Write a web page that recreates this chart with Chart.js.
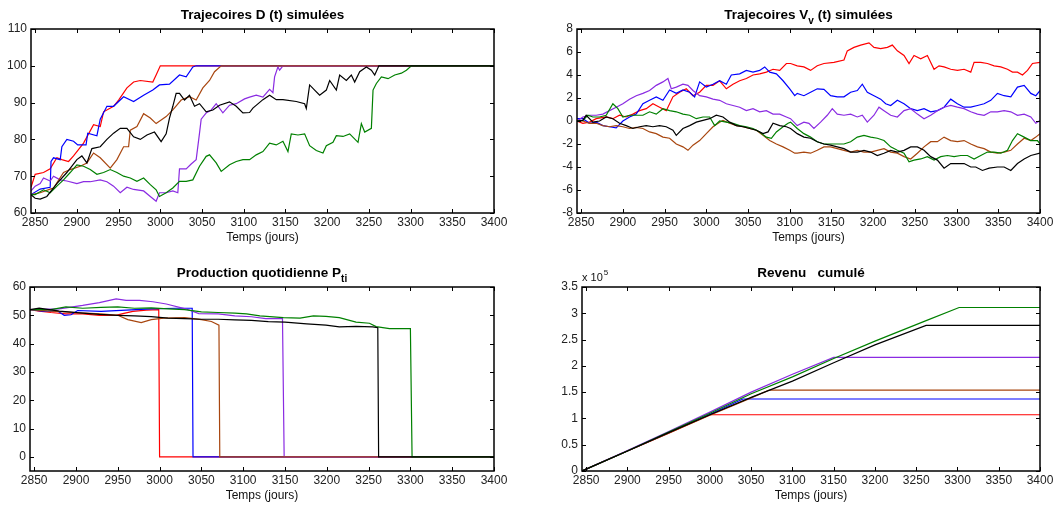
<!DOCTYPE html>
<html>
<head>
<meta charset="utf-8">
<script src="https://cdn.jsdelivr.net/npm/chart.js@4.4.0/dist/chart.umd.min.js"></script>
<style>
  html, body { margin: 0; padding: 0; background: #fff; }
  #fig { position: relative; width: 1058px; height: 510px; }
  .cell { position: absolute; width: 529px; height: 255px; }
</style>
</head>
<body>
<div id="fig">
  <div class="cell" style="left:0;top:0"><canvas id="cD" width="529" height="255"></canvas></div>
  <div class="cell" style="left:529px;top:0"><canvas id="cV" width="529" height="255"></canvas></div>
  <div class="cell" style="left:0;top:255px"><canvas id="cP" width="529" height="255"></canvas></div>
  <div class="cell" style="left:529px;top:255px"><canvas id="cR" width="529" height="255"></canvas></div>
</div>
<script>
// axis ticks
const xTicks = [2850, 2900, 2950, 3000, 3050, 3100, 3150, 3200, 3250, 3300, 3350, 3400];
const dTicks = [60, 70, 80, 90, 100, 110];
const vTicks = [-8, -6, -4, -2, 0, 2, 4, 6, 8];
const pTicks = [0, 10, 20, 30, 40, 50, 60];
const rTicks = [0, 0.5, 1, 1.5, 2, 2.5, 3, 3.5];

// the six simulated runs, in plotting order
const runs = ['red', 'blue', 'purple', 'brown', 'green', 'black'];

// D(t) : [day, value]
const D_red = [[2845,67],[2850,70.5],[2860,71],[2868,72],[2876,75],[2882,74.5],[2890,74],[2896,75.5],[2908,79],[2920,84],[2928,83.5],[2932,87.5],[2944,89],[2950,90.7],[2960,94],[2968,95.6],[2976,96],[2991,95.6],[2995,97.5],[3000,100],[3400,100]];
const D_blue = [[2845,65],[2856,66.5],[2868,67],[2869,74],[2872,75],[2880,74.5],[2882,78],[2888,80],[2896,79.5],[2901,78.5],[2911,78.5],[2913,81.7],[2924,81],[2928,85.5],[2936,89],[2944,89],[2956,91.6],[2968,90.3],[2980,92],[2991,93.4],[2999,94.8],[3011,95],[3023,97.5],[3031,97],[3039,99.7],[3043,100],[3400,100]];
const D_brown = [[2845,65],[2856,65.5],[2868,66.5],[2872,66.8],[2884,71],[2892,71.8],[2904,72.7],[2912,73.6],[2920,76.3],[2928,75],[2940,72.2],[2948,74.5],[2956,78],[2962,78],[2964,82.5],[2972,83.5],[2980,87],[2988,85.8],[2995,84.3],[3007,86.2],[3015,88],[3025,90.7],[3035,91.6],[3043,90.7],[3051,94],[3059,96],[3065,98.4],[3073,100],[3400,100]];
const D_black = [[2845,65],[2850,64],[2856,63.8],[2864,64.5],[2876,68],[2888,71],[2900,74.5],[2906,75.5],[2912,73.6],[2918,77.5],[2928,78],[2936,80],[2944,81.7],[2952,83],[2960,83],[2968,80.7],[2976,80],[2984,81.2],[2993,82],[3001,79.4],[3007,81.5],[3011,85.8],[3015,89],[3019,92.5],[3023,92.5],[3029,90.7],[3035,92],[3041,89],[3047,89.7],[3055,87.5],[3063,88],[3071,89.3],[3083,90.2],[3091,89],[3099,87.2],[3107,87.3],[3111,88.5],[3123,90.8],[3131,92],[3139,90.8],[3147,90.8],[3163,90.3],[3173,89.7],[3175,88.4],[3179,94.8],[3185,93.4],[3191,92],[3199,93.4],[3203,96],[3211,93.4],[3215,97.5],[3223,96],[3229,97.5],[3233,95.6],[3239,98.4],[3247,99.7],[3253,98.8],[3257,97.5],[3262,100],[3400,100]];
const D_purple = [[2845,66],[2850,67.3],[2856,68],[2860,69.5],[2868,68.7],[2872,70],[2880,69],[2888,68.7],[2900,68],[2908,68.5],[2916,68.5],[2928,69],[2936,68.5],[2944,67.3],[2952,65.5],[2960,67],[2968,66.4],[2980,66],[2988,64.5],[2995,63.2],[2999,65.5],[3007,65.5],[3015,66],[3021,65.5],[3023,72],[3031,72],[3037,73.3],[3043,74.5],[3047,81.7],[3049,85.5],[3055,87.2],[3061,88],[3067,89.7],[3075,87.2],[3083,89.3],[3091,89.7],[3101,91],[3107,91.5],[3115,92],[3123,91.5],[3131,93.6],[3135,92.7],[3137,97],[3141,99.7],[3143,98.8],[3147,100],[3400,100]];
const D_green = [[2845,65],[2850,65],[2860,66.3],[2868,65.5],[2876,67.3],[2884,69],[2892,71],[2900,73.1],[2908,72.7],[2916,71.8],[2924,70.5],[2932,71],[2940,71.8],[2948,71],[2956,70],[2964,69.5],[2972,68.6],[2980,69.5],[2988,67.7],[2995,66.3],[2999,64.5],[3007,65.5],[3015,66.8],[3023,68.6],[3031,68.6],[3039,69],[3047,72.7],[3055,75.4],[3059,75.8],[3067,73.6],[3073,71.3],[3083,73.1],[3091,74],[3099,74.5],[3107,74.5],[3115,75.8],[3123,76.7],[3131,79],[3139,78.5],[3147,79.5],[3153,76.7],[3157,81.5],[3165,81.2],[3173,81.5],[3179,78.3],[3187,77],[3195,76.3],[3199,78.3],[3207,79.2],[3211,81],[3219,80.8],[3227,81.5],[3237,79.2],[3241,84.3],[3245,82],[3253,83],[3255,93.4],[3259,95.2],[3265,97],[3273,96.5],[3281,97.5],[3289,98],[3295,98.8],[3301,100],[3400,100]];

// Vv(t) : [day, value]
const V_red = [[2845,0],[2852,-0.2],[2860,-0.1],[2868,0.2],[2880,0.35],[2888,0.2],[2896,0.5],[2904,0.35],[2912,0.6],[2920,0.9],[2928,1.07],[2936,1.5],[2944,1.2],[2952,0.9],[2960,2.1],[2968,2.5],[2976,2.8],[2984,2.2],[2992,2.5],[3000,3.1],[3008,3.1],[3016,3.5],[3024,2.8],[3032,3.2],[3040,3.5],[3048,3.7],[3056,4],[3064,4.1],[3072,4.25],[3080,4.5],[3088,4.4],[3096,5],[3101,5],[3109,4.8],[3117,4.7],[3125,4.4],[3133,4.8],[3141,5],[3153,5.1],[3165,5.3],[3169,6.1],[3177,6.4],[3185,6.6],[3195,6.8],[3201,6.4],[3209,6.3],[3217,6.4],[3223,6.6],[3229,6.1],[3237,5.7],[3243,5],[3249,5.7],[3257,5.4],[3265,5.7],[3273,4.5],[3279,4.8],[3285,4.7],[3293,4.5],[3301,4.4],[3309,4.5],[3317,4.25],[3321,5.1],[3329,5.1],[3337,5],[3345,4.8],[3353,4.7],[3361,4.5],[3367,4.25],[3373,4.25],[3379,4],[3385,4.4],[3391,5],[3400,5.1]];
const V_blue = [[2845,0.2],[2852,0.2],[2860,-0.2],[2868,-0.1],[2876,-0.4],[2884,-0.5],[2892,-0.6],[2900,0],[2908,0.35],[2916,0.6],[2924,1.5],[2932,1.8],[2940,2.1],[2948,1.8],[2956,2.7],[2964,2.4],[2972,2.7],[2980,2.5],[2986,2.1],[2992,3.4],[3000,2.95],[3008,3.2],[3016,3.5],[3024,3.2],[3030,4],[3040,4.1],[3048,4.4],[3056,4.25],[3064,4.4],[3070,4.7],[3076,4.25],[3084,4.1],[3092,3.5],[3100,2.8],[3106,2.2],[3109,2.4],[3117,2.2],[3125,2.5],[3133,2.8],[3141,2.75],[3149,2.2],[3157,2.1],[3165,2.1],[3173,2.5],[3181,2.65],[3187,3.2],[3193,2.5],[3201,2.2],[3209,1.9],[3215,1.5],[3221,1.35],[3229,1.8],[3237,1.5],[3245,1.07],[3253,0.9],[3261,1.07],[3269,0.8],[3277,0.9],[3285,1.2],[3293,1.9],[3301,1.5],[3309,1.2],[3317,1.2],[3325,1.35],[3333,1.5],[3341,1.8],[3349,2.4],[3357,2.2],[3365,2.1],[3373,2.95],[3381,3.1],[3389,2.4],[3395,2.2],[3400,2.65]];
const V_purple = [[2845,0],[2852,0.35],[2860,0.5],[2868,0.5],[2876,0.6],[2884,0.9],[2892,1.2],[2900,1.5],[2908,1.9],[2916,2.2],[2924,2.4],[2932,2.65],[2940,3.1],[2948,3.4],[2954,3.7],[2958,2.8],[2964,2.95],[2972,3.2],[2978,3.1],[2984,2.65],[2992,2.2],[3000,2.1],[3008,1.9],[3016,1.8],[3024,1.5],[3032,1.35],[3040,1.2],[3048,0.9],[3056,1.07],[3064,0.8],[3072,0.9],[3080,0.6],[3088,0.6],[3096,0.35],[3101,0.2],[3109,-0.4],[3117,-0.1],[3123,-0.2],[3129,-0.65],[3137,-0.1],[3145,0.5],[3151,1.07],[3157,0.6],[3165,0.5],[3173,0.6],[3181,0.35],[3187,0.5],[3193,-0.1],[3201,0.5],[3207,1.2],[3213,0.9],[3221,0.5],[3229,0.35],[3237,0.9],[3245,1.07],[3253,0.6],[3261,0.2],[3269,0.5],[3277,0.9],[3285,1.2],[3293,1.35],[3301,1.2],[3309,1.07],[3317,0.8],[3325,0.6],[3333,0.5],[3341,0.8],[3349,0.8],[3357,0.9],[3365,0.8],[3373,0.5],[3381,0.6],[3389,0.35],[3395,-0.2],[3400,0.05]];
const V_green = [[2845,0],[2852,0.05],[2858,0.5],[2864,0.35],[2872,0.35],[2880,0.5],[2888,1.5],[2894,1.07],[2900,0.35],[2908,0.5],[2916,0.5],[2924,0.5],[2932,0.8],[2940,0.6],[2948,1.07],[2956,0.9],[2964,0.8],[2972,0.6],[2980,0.5],[2988,0.2],[2996,0.35],[3004,0.35],[3010,-0.4],[3016,0],[3024,-0.1],[3032,-0.2],[3040,-0.4],[3048,-0.5],[3056,-0.65],[3064,-0.95],[3072,-1.4],[3078,-1.5],[3084,-0.95],[3092,-0.5],[3098,-0.2],[3101,-0.1],[3109,-0.65],[3117,-1.1],[3125,-1.4],[3133,-1.8],[3141,-2],[3149,-2],[3157,-2],[3165,-2],[3173,-1.8],[3181,-1.4],[3189,-1.25],[3197,-1.4],[3205,-1.5],[3213,-1.7],[3221,-2.25],[3229,-2.55],[3237,-2.8],[3243,-3.55],[3249,-3.4],[3257,-3.3],[3265,-3.1],[3273,-3.4],[3281,-3.1],[3289,-3],[3297,-3.1],[3305,-3],[3313,-3],[3321,-3.3],[3329,-3],[3337,-2.7],[3345,-2.7],[3353,-2.8],[3361,-2.55],[3367,-1.7],[3373,-1.1],[3381,-1.4],[3389,-1.7],[3397,-1.7],[3400,-2]];
const V_black = [[2845,0],[2852,0.05],[2856,0.5],[2864,-0.1],[2872,0],[2880,0.35],[2888,0.2],[2896,-0.2],[2904,-0.4],[2912,-0.65],[2920,-0.5],[2928,-0.4],[2936,-0.5],[2944,-0.4],[2952,-0.5],[2960,-0.8],[2964,-1.25],[2972,-0.65],[2980,-0.4],[2988,-0.1],[2996,0.05],[3004,0.2],[3012,0.5],[3020,0.35],[3028,-0.1],[3036,-0.4],[3044,-0.5],[3052,-0.65],[3060,-0.8],[3068,-1.1],[3074,-0.95],[3080,-0.2],[3088,-0.4],[3096,-0.5],[3101,-0.65],[3109,-1.1],[3117,-1.4],[3125,-1.5],[3133,-1.8],[3141,-2],[3149,-2.1],[3157,-2.25],[3165,-2.4],[3173,-2.7],[3181,-2.7],[3189,-2.55],[3197,-2.7],[3205,-3],[3213,-2.8],[3221,-2.55],[3229,-2.7],[3237,-2.55],[3245,-2.25],[3253,-2.25],[3261,-2.55],[3269,-3.1],[3277,-3.4],[3285,-4.1],[3293,-3.7],[3301,-3.7],[3309,-3.7],[3317,-4],[3323,-4],[3331,-4.3],[3339,-4.1],[3349,-4],[3357,-4],[3365,-4.3],[3373,-3.7],[3381,-3.3],[3389,-3],[3400,-2.8]];
const V_brown = [[2845,0],[2852,0],[2860,-0.2],[2868,-0.2],[2876,-0.4],[2884,-0.5],[2892,-0.4],[2900,-0.5],[2908,-0.65],[2916,-0.55],[2924,-0.65],[2932,-0.95],[2940,-1.1],[2948,-1.4],[2956,-1.5],[2964,-2],[2972,-2.25],[2978,-2.55],[2984,-2.1],[2992,-1.7],[3000,-1.1],[3008,-0.5],[3016,-0.1],[3020,0.05],[3028,-0.2],[3036,-0.4],[3044,-0.5],[3052,-0.65],[3060,-0.8],[3068,-1.25],[3076,-1.7],[3084,-2],[3092,-2.25],[3100,-2.55],[3106,-2.8],[3109,-2.8],[3117,-2.7],[3125,-2.8],[3133,-2.55],[3141,-2.25],[3149,-2.25],[3157,-2.4],[3165,-2.55],[3173,-2.7],[3181,-2.55],[3189,-2.7],[3197,-2.7],[3205,-2.55],[3213,-2.4],[3221,-2.7],[3229,-2.8],[3237,-3.1],[3245,-3.3],[3253,-2.8],[3261,-2.25],[3269,-1.8],[3277,-1.8],[3285,-1.4],[3293,-1.7],[3301,-1.8],[3309,-1.7],[3317,-2],[3325,-2.25],[3333,-2.4],[3341,-2.7],[3349,-2.8],[3357,-2.7],[3365,-2.55],[3373,-2],[3381,-1.5],[3389,-1.7],[3395,-1.4],[3400,-1.1]];

// P_ti : [day, value]
const P_red = [[2845,52],[2856,51.5],[2870,51],[2888,50.5],[2908,50.5],[2928,50],[2948,50],[2956,50.6],[2968,51.4],[2984,51.8],[2999,52],[3000,0],[3400,0]];
const P_blue = [[2845,52],[2860,51.5],[2878,51.5],[2886,50],[2894,50.2],[2902,51.7],[2930,51.4],[2960,51.8],[2990,52.3],[3020,52.5],[3039,52.5],[3040,0],[3400,0]];
const P_brown = [[2845,52],[2870,51.5],[2900,51],[2930,50.5],[2950,50],[2962,48.5],[2978,47.4],[2990,48.5],[3005,49],[3030,49.2],[3050,48.5],[3062,47.8],[3071,46.5],[3072,0],[3400,0]];
const P_purple = [[2845,52],[2880,52.3],[2908,53.5],[2928,54.5],[2948,55.8],[2960,55.3],[2976,55.3],[2992,54.8],[3008,54],[3031,52.3],[3047,50.6],[3070,50.5],[3090,49.8],[3110,49.5],[3127,48.8],[3147,48.8],[3149,0],[3400,0]];
const P_green = [[2845,52],[2870,52],[2888,53],[2908,52.5],[2930,52.8],[2950,53],[2970,52.5],[2990,52.6],[3010,52.3],[3030,52],[3050,51.2],[3070,51],[3090,50.8],[3104,50.5],[3120,49.8],[3148,49.2],[3168,49],[3184,49.8],[3199,49.6],[3215,49.2],[3235,47.6],[3251,47.2],[3259,46],[3275,45.3],[3300,45.3],[3302,0],[3400,0]];
const P_black = [[2845,52],[2856,52.5],[2880,51.5],[2908,50.8],[2928,50.3],[2950,50],[2970,49.8],[2990,49.5],[3010,49],[3030,48.8],[3050,48.6],[3070,48.6],[3090,48.4],[3110,48.2],[3130,47.8],[3150,47.6],[3176,47],[3199,46.5],[3215,45.9],[3235,46.1],[3255,45.9],[3261,45.6],[3262,0],[3400,0]];

// cumulative revenue, in units of 10^5 : [day, value]
const R_red = [[2845,0],[2900,0.38],[2950,0.72],[3000,1.07],[3400,1.07]];
const R_blue = [[2845,0],[2900,0.38],[2950,0.73],[3000,1.08],[3040,1.37],[3400,1.37]];
const R_brown = [[2845,0],[2900,0.38],[2950,0.72],[3000,1.06],[3050,1.39],[3072,1.54],[3400,1.54]];
const R_purple = [[2845,0],[2900,0.39],[2950,0.75],[3000,1.12],[3050,1.5],[3100,1.84],[3150,2.16],[3400,2.16]];
const R_green = [[2845,0],[2900,0.38],[2950,0.74],[3000,1.1],[3050,1.47],[3100,1.79],[3150,2.14],[3200,2.47],[3262,2.86],[3302,3.11],[3400,3.11]];
const R_black = [[2845,0],[2900,0.38],[2950,0.73],[3000,1.07],[3050,1.4],[3100,1.71],[3150,2.06],[3200,2.4],[3262,2.77],[3400,2.77]];

const colors = {
  red: '#ff0000',
  blue: '#0000ff',
  purple: '#8a2be2',
  brown: '#a8460f',
  green: '#008000',
  black: '#000000'
};

const FONT = '"Liberation Sans", Arial, Helvetica, sans-serif';

// box, inward ticks, title and labels in the MATLAB look
const frame = {
  id: 'frame',
  afterDatasetsDraw(chart, args, opts) {
    const { ctx, chartArea: a, scales } = chart;
    ctx.save();
    ctx.strokeStyle = '#000';
    ctx.lineWidth = 1;
    ctx.beginPath();
    scales.x.ticks.forEach(t => {
      const px = Math.round(scales.x.getPixelForValue(t.value)) + 0.5;
      ctx.moveTo(px, a.bottom); ctx.lineTo(px, a.bottom - 4);
      ctx.moveTo(px, a.top); ctx.lineTo(px, a.top + 4);
    });
    scales.y.ticks.forEach(t => {
      const py = Math.round(scales.y.getPixelForValue(t.value)) + 0.5;
      ctx.moveTo(a.left, py); ctx.lineTo(a.left + 4, py);
      ctx.moveTo(a.right, py); ctx.lineTo(a.right - 4, py);
    });
    ctx.stroke();
    ctx.lineWidth = 1.5;
    ctx.strokeRect(a.left, a.top, a.right - a.left, a.bottom - a.top);

    // title, with optional subscript pieces
    const parts = opts.title || [];
    const big = 'bold 13.5px ' + FONT, small = 'bold 10px ' + FONT;
    let w = 0;
    parts.forEach(p => { ctx.font = p[1] ? small : big; w += ctx.measureText(p[0]).width; });
    let x = (a.left + a.right) / 2 - w / 2;
    const ty = a.top - 14;
    ctx.fillStyle = '#000';
    ctx.textBaseline = 'middle';
    ctx.textAlign = 'left';
    parts.forEach(p => {
      ctx.font = p[1] ? small : big;
      ctx.fillText(p[0], x, p[1] ? ty + 6 : ty);
      x += ctx.measureText(p[0]).width;
    });

    // x axis label
    ctx.font = '12px ' + FONT;
    ctx.fillStyle = '#111';
    ctx.textAlign = 'center';
    ctx.fillText('Temps (jours)', (a.left + a.right) / 2, a.bottom + 25);

    // exponent note
    if (opts.exp) {
      ctx.textAlign = 'left';
      ctx.font = '11px ' + FONT;
      ctx.fillText('x 10', a.left, a.top - 9);
      const ew = ctx.measureText('x 10').width;
      ctx.font = '8px ' + FONT;
      ctx.fillText(opts.exp, a.left + ew + 1, a.top - 14);
    }
    ctx.restore();
  }
};

function panel(id, series, yMin, yMax, yTicks, area, deco) {
  const canvas = document.getElementById(id);
  const W = canvas.width, H = canvas.height;
  const datasets = runs.map(k => ({
    data: series[k].map(p => ({ x: p[0], y: p[1] })),
    borderColor: colors[k],
    borderWidth: 1.2,
    pointRadius: 0,
    tension: 0,
    fill: false
  })).reverse(); // first dataset is drawn on top

  const tickFont = { family: FONT, size: 12 };
  new Chart(canvas, {
    type: 'line',
    data: { datasets },
    options: {
      responsive: false,
      animation: false,
      events: [],
      layout: { padding: { left: 0, top: area.top, right: W - area.right, bottom: 0 } },
      plugins: { legend: { display: false }, tooltip: { enabled: false }, frame: deco },
      scales: {
        x: {
          type: 'linear', min: 2845, max: 3400,
          afterBuildTicks: s => { s.ticks = xTicks.map(v => ({ value: v })); },
          afterFit: s => { s.height = H - area.bottom; },
          grid: { display: false, drawTicks: false },
          border: { display: false },
          ticks: { font: tickFont, color: '#222', padding: 2, maxRotation: 0, autoSkip: false, callback: v => String(v) }
        },
        y: {
          min: yMin, max: yMax,
          afterBuildTicks: s => { s.ticks = yTicks.map(v => ({ value: v })); },
          afterFit: s => { s.width = area.left; },
          grid: { display: false, drawTicks: false },
          border: { display: false },
          ticks: { font: tickFont, color: '#222', padding: 4, autoSkip: false, callback: v => String(v) }
        }
      }
    },
    plugins: [frame]
  });
}

panel('cD', { red: D_red, blue: D_blue, purple: D_purple, brown: D_brown, green: D_green, black: D_black },
  60, 110, dTicks, { left: 31, top: 29, right: 494, bottom: 213 },
  { title: [['Trajecoires D (t) simulées', 0]] });

panel('cV', { red: V_red, blue: V_blue, purple: V_purple, brown: V_brown, green: V_green, black: V_black },
  -8, 8, vTicks, { left: 48, top: 29, right: 511, bottom: 213 },
  { title: [['Trajecoires V', 0], ['v', 1], [' (t) simulées', 0]] });

panel('cP', { red: P_red, blue: P_blue, purple: P_purple, brown: P_brown, green: P_green, black: P_black },
  -5, 60, pTicks, { left: 30, top: 32, right: 494, bottom: 216 },
  { title: [['Production quotidienne P', 0], ['ti', 1]] });

panel('cR', { red: R_red, blue: R_blue, purple: R_purple, brown: R_brown, green: R_green, black: R_black },
  0, 3.5, rTicks, { left: 53, top: 32, right: 511, bottom: 216 },
  { title: [['Revenu   cumulé', 0]], exp: '5' });
</script>
</body>
</html>
